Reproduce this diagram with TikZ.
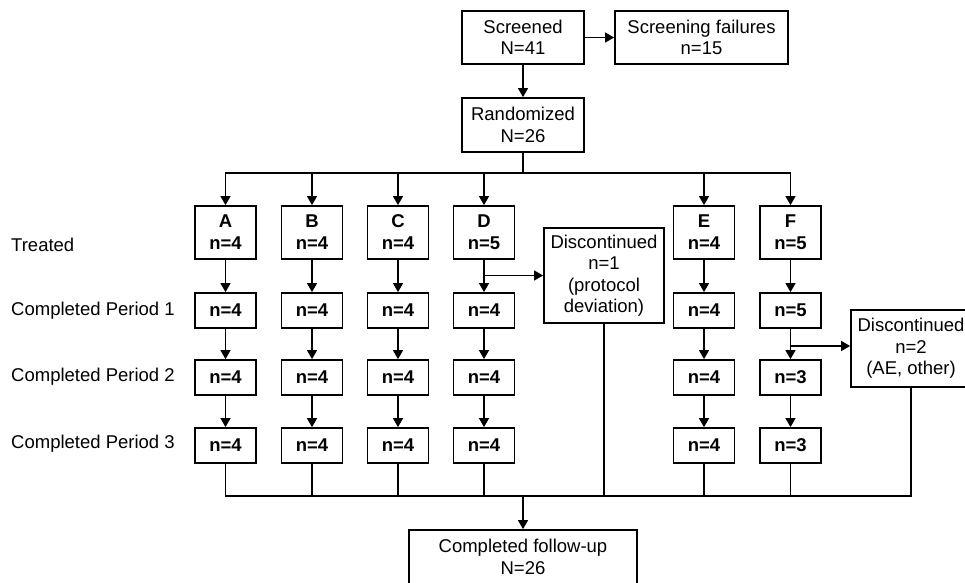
\documentclass[tikz,border=0pt]{standalone}
\usepackage{fontspec}
\setmainfont{Liberation Sans}
\usetikzlibrary{arrows.meta}
\begin{document}
\begin{tikzpicture}[x=1pt,y=-1pt,
  box/.style={draw, line width=1.8pt, inner sep=0pt, align=center, font=\fontsize{18.5}{21.5}\selectfont},
  grp/.style={box, font=\bfseries\fontsize{18.5}{22}\selectfont, minimum width=61pt, minimum height=53pt},
  cnt/.style={box, font=\bfseries\fontsize{18.5}{22}\selectfont, minimum width=61pt, minimum height=35pt},
  lbl/.style={anchor=west, inner sep=0pt, font=\fontsize{18.5}{21.5}\selectfont},
  conn/.style={line width=1.3pt},
  arr/.style={conn, -{Triangle[length=9pt,width=10pt]}}]
\useasboundingbox (0,0) rectangle (965,582);

% top boxes
\node[box, minimum width=122pt, minimum height=53pt] (scr) at (523,37.5) {Screened\\N=41};
\node[box, minimum width=173pt, minimum height=53pt] (fail) at (701.5,37.5) {Screening failures\\n=15};
\node[box, minimum width=122pt, minimum height=54pt] (rand) at (523,125) {Randomized\\N=26};

% row labels
\node[lbl] (lt) at (11,245) {Treated};
\node[lbl] (l1) at (11,311) {Completed Period 1};
\node[lbl] (l2) at (11,377) {Completed Period 2};
\node[lbl] (l3) at (11,444) {Completed Period 3};

% treated row
\node[grp] (tA) at (225.5,232.5) {A\\n=4};
\node[grp] (tB) at (312,232.5) {B\\n=4};
\node[grp] (tC) at (398,232.5) {C\\n=4};
\node[grp] (tD) at (484,232.5) {D\\n=5};
\node[grp] (tE) at (704,232.5) {E\\n=4};
\node[grp] (tF) at (790.5,232.5) {F\\n=5};

% period 1
\node[cnt] (aA) at (225.5,310.5) {n=4};
\node[cnt] (aB) at (312,310.5) {n=4};
\node[cnt] (aC) at (398,310.5) {n=4};
\node[cnt] (aD) at (484,310.5) {n=4};
\node[cnt] (aE) at (704,310.5) {n=4};
\node[cnt] (aF) at (790.5,310.5) {n=5};

% period 2
\node[cnt] (bA) at (225.5,377.5) {n=4};
\node[cnt] (bB) at (312,377.5) {n=4};
\node[cnt] (bC) at (398,377.5) {n=4};
\node[cnt] (bD) at (484,377.5) {n=4};
\node[cnt] (bE) at (704,377.5) {n=4};
\node[cnt] (bF) at (790.5,377.5) {n=3};

% period 3
\node[cnt] (cA) at (225.5,445.5) {n=4};
\node[cnt] (cB) at (312,445.5) {n=4};
\node[cnt] (cC) at (398,445.5) {n=4};
\node[cnt] (cD) at (484,445.5) {n=4};
\node[cnt] (cE) at (704,445.5) {n=4};
\node[cnt] (cF) at (790.5,445.5) {n=3};

% discontinued boxes
\node[box, minimum width=120pt, minimum height=95pt] (d1) at (604,275.5) {Discontinued\\n=1\\(protocol\\deviation)};
\node[box, minimum width=120pt, minimum height=77pt] (d2) at (911,348.5) {Discontinued\\n=2\\(AE, other)};

% follow-up
\node[box, minimum width=228pt, minimum height=54pt] (fu) at (523,557) {Completed follow-up\\N=26};

% connectors top
\draw[arr] (scr) -- (rand);
\draw[arr] (scr) -- (fail);
\coordinate (split) at (523,173);
\draw[conn] (rand.south) -- (split);
\draw[conn, line cap=rect] (tA.north |- split) -- (tF.north |- split);
\foreach \n in {tA,tB,tC,tD,tE,tF}
  \draw[arr] (\n.north |- split) -- (\n.north);

% column arrows
\foreach \c in {A,B,C,D,E,F}{
  \draw[arr] (t\c) -- (a\c);
  \draw[arr] (a\c) -- (b\c);
  \draw[arr] (b\c) -- (c\c);
}

% branches to discontinued
\draw[arr] (tD.south |- d1.west) -- (d1.west);
\coordinate (fbr) at (790.5,346);
\draw[arr] (aF.south |- fbr) -- (d2.west |- fbr);

% merge at bottom
\coordinate (merge) at (523,496);
\draw[conn] (cA.south) |- (d2.south |- merge) -- (d2.south);
\foreach \n in {cB,cC,cD,cE,cF,d1}
  \draw[conn] (\n.south) -- (\n.south |- merge);
\draw[arr] (merge) -- (fu);
\end{tikzpicture}
\end{document}
